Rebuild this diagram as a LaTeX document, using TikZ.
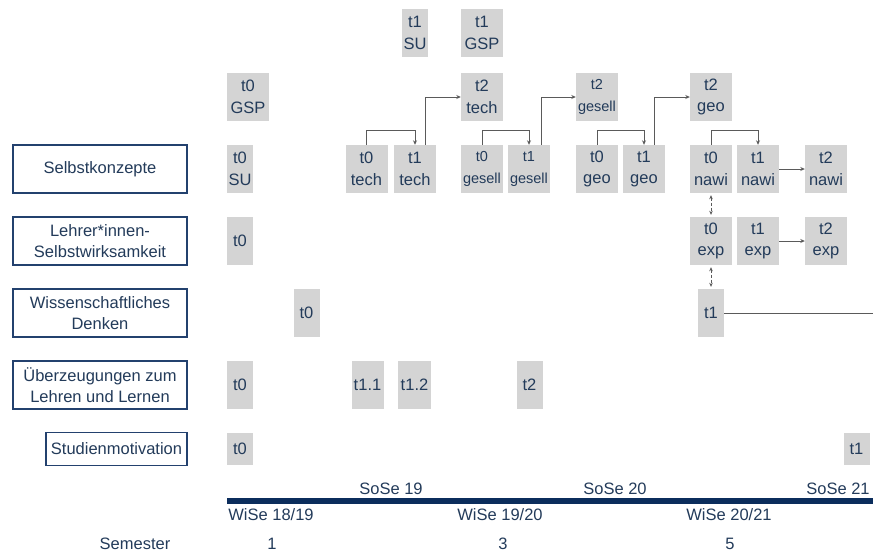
\documentclass[tikz,border=0pt]{standalone}
\usepackage{fontspec}
\setmainfont{Liberation Sans}
\usetikzlibrary{arrows.meta}
\definecolor{navy}{HTML}{0B2D5C}
\definecolor{boxblue}{HTML}{23416E}
\definecolor{txt}{HTML}{233B5A}
\definecolor{gfill}{HTML}{D4D4D4}
\definecolor{lgray}{HTML}{5A5A5A}
\tikzset{
  gbox/.style={fill=gfill, inner sep=0pt, minimum height=48pt, text=txt, align=center,
    font=\fontsize{16.5}{21.5}\selectfont},
  lbox/.style={draw=boxblue, line width=1.3pt, fill=white, inner sep=0pt, minimum height=48pt,
    text=txt, align=center, font=\fontsize{16.5}{20.5}\selectfont},
  conn/.style={draw=lgray, line width=0.7pt, -{Stealth[length=4.5pt,width=4pt]}},
  dconn/.style={draw=lgray, line width=0.6pt, densely dashed, {Stealth[length=4pt,width=3.5pt]}-{Stealth[length=4pt,width=3.5pt]}},
  tl/.style={text=txt, font=\fontsize{16.5}{18}\selectfont, inner sep=0pt},
  semrow/.style={tl, text depth=0pt, anchor=base},
  sm/.style={font=\fontsize{14.5}{21.5}\selectfont}
}
\begin{document}
\begin{tikzpicture}[x=1pt,y=-1pt]
\useasboundingbox (0,0) rectangle (873,552);
% left labels
\node[lbox, minimum width=174pt] (sk) at (100,169) {Selbstkonzepte};
\node[lbox, minimum width=174pt] (lsw) at (100,241) {Lehrer*innen-\\Selbstwirksamkeit};
\node[lbox, minimum width=174pt] (wd) at (100,313) {Wissenschaftliches\\Denken};
\node[lbox, minimum width=174pt] (ul) at (100,385) {Überzeugungen zum\\Lehren und Lernen};
\node[lbox, minimum width=141pt, minimum height=33pt] (sm) at (116.5,449) {Studienmotivation};
% top rows
\node[gbox, minimum width=26pt] (t1su) at (415,33) {t1\\SU};
\node[gbox, minimum width=42pt] (t1gsp) at (482,33) {t1\\GSP};
\node[gbox, minimum width=42pt] (t0gsp) at (248,97) {t0\\GSP};
\node[gbox, minimum width=42pt] (t2tech) at (482,97) {t2\\tech};
\node[gbox, minimum width=42pt, sm] (t2gesell) at (597,97) {t2\\gesell};
\node[gbox, minimum width=42pt] (t2geo) at (711,97) {t2\\geo};
% Selbstkonzepte row
\node[gbox, minimum width=26pt] (t0su) at (240,169) {t0\\SU};
\node[gbox, minimum width=42pt] (t0tech) at (366.5,169) {t0\\tech};
\node[gbox, minimum width=42pt] (t1tech) at (415,169) {t1\\tech};
\node[gbox, minimum width=42pt, sm] (t0gesell) at (482,169) {t0\\gesell};
\node[gbox, minimum width=42pt, sm] (t1gesell) at (529,169) {t1\\gesell};
\node[gbox, minimum width=42pt] (t0geo) at (597,169) {t0\\geo};
\node[gbox, minimum width=42pt] (t1geo) at (644,169) {t1\\geo};
\node[gbox, minimum width=42pt] (t0nawi) at (711,169) {t0\\nawi};
\node[gbox, minimum width=42pt] (t1nawi) at (758,169) {t1\\nawi};
\node[gbox, minimum width=42pt] (t2nawi) at (826,169) {t2\\nawi};
% Lehrer row
\node[gbox, minimum width=26pt] (lt0) at (240,241) {t0};
\node[gbox, minimum width=42pt] (t0exp) at (711,241) {t0\\exp};
\node[gbox, minimum width=42pt] (t1exp) at (758,241) {t1\\exp};
\node[gbox, minimum width=42pt] (t2exp) at (826,241) {t2\\exp};
% Wiss row
\node[gbox, minimum width=26pt] (wt0) at (306.5,313) {t0};
\node[gbox, minimum width=26pt] (wt1) at (711,313) {t1};
\coordinate (wend) at (873,313);
% Ueberzeugungen row
\node[gbox, minimum width=26pt] (ut0) at (240,385) {t0};
\node[gbox, minimum width=32pt] (ut11) at (367.5,385) {t1.1};
\node[gbox, minimum width=33pt] (ut12) at (414.5,385) {t1.2};
\node[gbox, minimum width=26pt] (ut2) at (529.5,385) {t2};
% Studienmotivation row
\node[gbox, minimum width=26pt, minimum height=32pt] (st0) at (240,449) {t0};
\node[gbox, minimum width=26pt, minimum height=32pt] (st1) at (856.5,449) {t1};
% connectors
\draw[conn] (t0tech.north) -- ++(0,-14) -| (t1tech.north);
\draw[conn] ([xshift=10pt]t1tech.north) |- (t2tech.west);
\draw[conn] (t0gesell.north) -- ++(0,-14) -| (t1gesell.north);
\draw[conn] ([xshift=12pt]t1gesell.north) |- (t2gesell.west);
\draw[conn] (t0geo.north) -- ++(0,-14) -| (t1geo.north);
\draw[conn] ([xshift=10pt]t1geo.north) |- (t2geo.west);
\draw[conn] (t0nawi.north) -- ++(0,-14) -| (t1nawi.north);
\draw[conn] (t1nawi.east) -- (t2nawi.west);
\draw[conn] (t1exp.east) -- (t2exp.west);
\draw[dconn] ([yshift=-2pt]t0nawi.south) -- ([yshift=2pt]t0exp.north);
\draw[dconn] ([yshift=-2pt]t0exp.south) -- ([yshift=2pt]wt1.north);
\draw[draw=lgray, line width=0.7pt] (wt1.east) -- (wend);
% timeline
\fill[navy] (227,498) rectangle (873,504);
\node[tl] (s19) at (391,489) {SoSe 19};
\node[tl] (s20) at (615,489) {SoSe 20};
\node[tl] (s21) at (838,489) {SoSe 21};
\node[tl] (w1819) at (271,515) {WiSe 18/19};
\node[tl] (w1920) at (500,515) {WiSe 19/20};
\node[tl] (w2021) at (729,515) {WiSe 20/21};
\node[semrow] (sem) at (135,549) {Semester};
\node[semrow] (n1) at (272,549) {1};
\node[semrow] (n3) at (503,549) {3};
\node[semrow] (n5) at (730,549) {5};
\end{tikzpicture}
\end{document}
